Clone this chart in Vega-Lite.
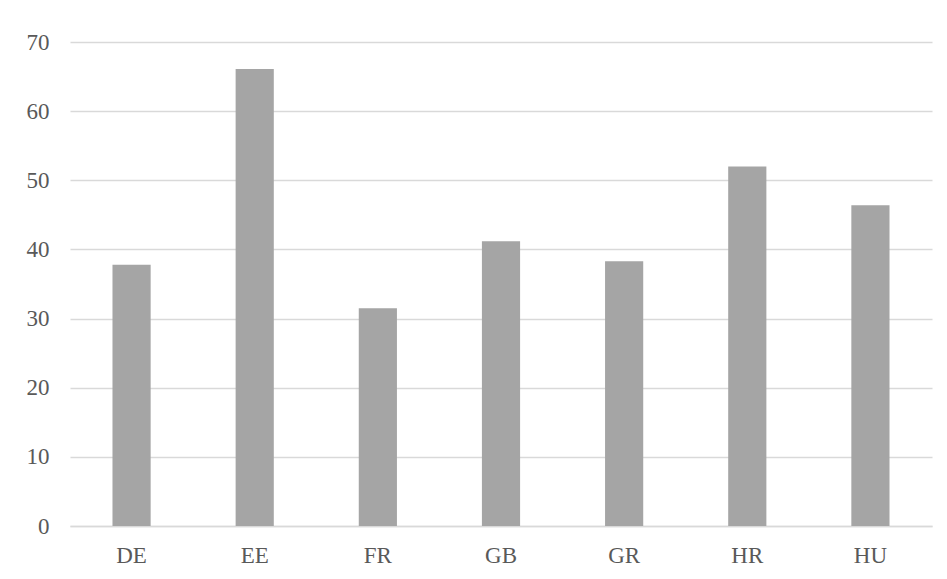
{
  "$schema": "https://vega.github.io/schema/vega-lite/v6.json",
  "width": 862,
  "height": 484,
  "autosize": {"type": "none"},
  "padding": {"left": 70, "top": 42, "right": 15, "bottom": 53},
  "background": "white",
  "data": {
    "values": [
      {"country": "DE", "value": 37.8},
      {"country": "EE", "value": 66.1},
      {"country": "FR", "value": 31.5},
      {"country": "GB", "value": 41.2},
      {"country": "GR", "value": 38.3},
      {"country": "HR", "value": 52.0},
      {"country": "HU", "value": 46.4}
    ]
  },
  "mark": {"type": "bar", "color": "#a5a5a5"},
  "encoding": {
    "x": {
      "field": "country",
      "type": "nominal",
      "sort": null,
      "scale": {"paddingInner": 0.69, "paddingOuter": 0.345},
      "axis": {
        "title": null,
        "labelAngle": 0,
        "domain": true,
        "domainColor": "#d9d9d9",
        "domainWidth": 1.5,
        "ticks": false,
        "grid": false,
        "labelFont": "Liberation Serif",
        "labelFontSize": 23,
        "labelColor": "#595959",
        "labelPadding": 18
      }
    },
    "y": {
      "field": "value",
      "type": "quantitative",
      "scale": {"domain": [0, 70]},
      "axis": {
        "title": null,
        "values": [0, 10, 20, 30, 40, 50, 60, 70],
        "domain": false,
        "ticks": false,
        "grid": true,
        "gridColor": "#d9d9d9",
        "gridWidth": 1.5,
        "labelFont": "Liberation Serif",
        "labelFontSize": 23,
        "labelColor": "#595959",
        "labelPadding": 21
      }
    }
  },
  "config": {"view": {"stroke": null}}
}
